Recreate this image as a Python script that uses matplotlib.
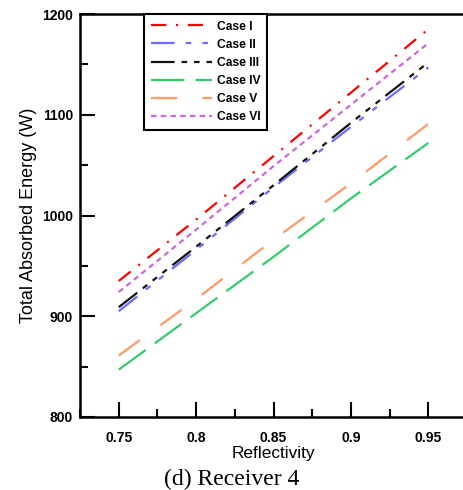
"""
Total absorbed energy vs reflectivity, receiver 4
"""
import numpy as np
import matplotlib.pyplot as plt
from matplotlib.ticker import MultipleLocator

plt.rcParams['font.family'] = ['Liberation Sans', 'DejaVu Sans']
plt.rcParams['lines.scale_dashes'] = False

#### Data
reflectivity = [0.75, 0.80, 0.85, 0.90, 0.95]
case_1 = [935, 996, 1059, 1122, 1185]
case_2 = [905, 966, 1028, 1088, 1147]
case_3 = [909, 969, 1030, 1092, 1152]
case_4 = [847, 903, 959, 1017, 1072]
case_5 = [861, 917, 976, 1032, 1091]
case_6 = [924, 986, 1049, 1110, 1171]
labels = ['Case I', 'Case II', 'Case III', 'Case IV', 'Case V', 'Case VI']

#### Styles
colors = ['#FF0000', '#6B6BFF', '#111111', '#33CC66', '#FF9966', '#CC66DD']
dashes = [(0, (11, 7, 1.5, 7)),
          (0, (17, 8, 4, 8, 4, 8)),
          (0, (17, 5, 4, 5, 4, 5, 4, 5)),
          (0, (24, 8)),
          (0, (19, 18)),
          (0, (4, 3))]

fig = plt.figure(figsize=(4.63, 4.9), dpi=100)
ax = fig.add_axes([0.1728, 0.149, 0.836, 0.8224])

series = [case_1, case_2, case_3, case_4, case_5, case_6]
for vals, lab, col, ls in zip(series, labels, colors, dashes):
    ax.plot(reflectivity, vals, color=col, linestyle=ls, linewidth=1.6, label=lab)

ax.set_xlim(0.725, 0.975)
ax.set_ylim(800, 1200)
ax.xaxis.set_major_locator(MultipleLocator(0.05))
ax.xaxis.set_minor_locator(MultipleLocator(0.025))
ax.yaxis.set_major_locator(MultipleLocator(100))
ax.yaxis.set_minor_locator(MultipleLocator(50))
ax.set_xticks([0.75, 0.8, 0.85, 0.9, 0.95])
ax.set_xticklabels(['0.75', '0.8', '0.85', '0.9', '0.95'])

ax.tick_params(which='major', direction='in', length=11, width=1.5,
               labelsize=10, pad=5)
ax.tick_params(axis='x', which='major', pad=10)
ax.tick_params(which='minor', direction='in', length=6, width=1.5)
ax.tick_params(axis='x', which='both', top=False)
ax.tick_params(axis='y', which='both', right=False)
for lbl in ax.get_xticklabels() + ax.get_yticklabels():
    lbl.set_fontweight('bold')

for side in ['left', 'bottom', 'top']:
    ax.spines[side].set_linewidth(1.8)
ax.spines['right'].set_visible(False)

ax.set_ylabel('Total Absorbed Energy (W)', fontsize=13, labelpad=4)
ax.set_xlabel('Reflectivity', fontsize=12.4, labelpad=1)

leg = ax.legend(loc='upper left', bbox_to_anchor=(0.165, 1.0), frameon=True,
                fancybox=False, edgecolor='black', framealpha=1,
                handlelength=5.1, fontsize=8.7, labelspacing=0.5,
                borderpad=0.55, handletextpad=0.4, borderaxespad=0)
leg.get_frame().set_linewidth(1.5)
for txt in leg.get_texts():
    txt.set_fontweight('bold')

fig.text(0.5, 0.021, '(d) Receiver 4', ha='center', va='center', fontsize=17,
         family=['Liberation Serif', 'DejaVu Serif'])

fig.savefig('out.png', dpi=100)
